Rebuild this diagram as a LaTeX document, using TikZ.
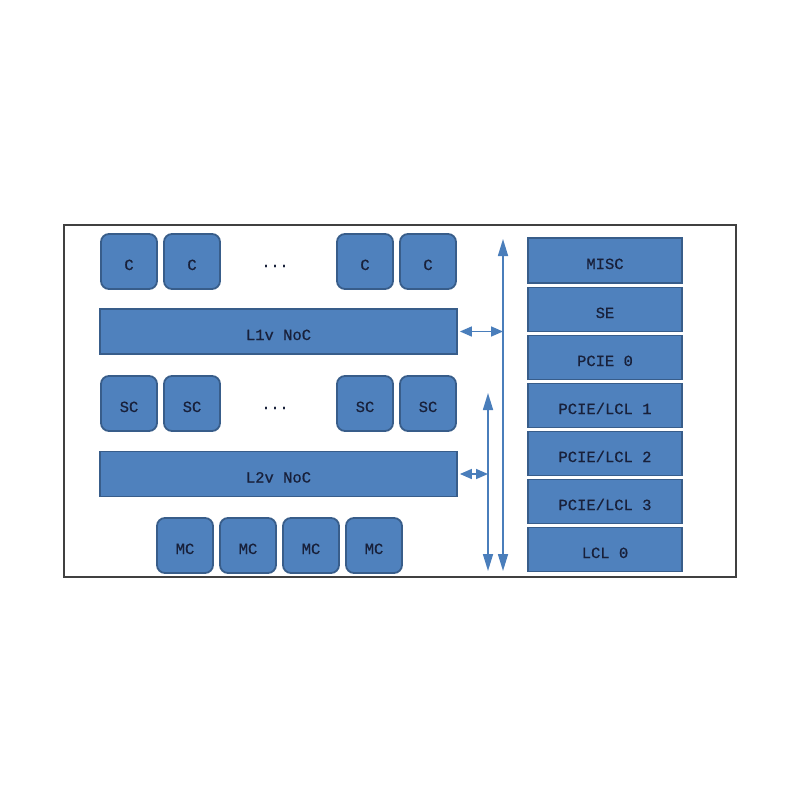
\documentclass[tikz,border=0pt]{standalone}
\usepackage{fontspec}
\setmainfont[FakeBold=0.6]{Liberation Mono}
\usetikzlibrary{arrows.meta}
\definecolor{boxfill}{HTML}{4F81BD}
\definecolor{boxline}{HTML}{385D8A}
\definecolor{txt}{HTML}{18203A}
\definecolor{arr}{HTML}{4A7EBB}
\tikzset{
  blk/.style={draw=boxline, fill=boxfill, line width=1.8pt, text=txt,
    font=\fontsize{15.5}{15.5}\selectfont, inner sep=0pt, text height=17pt, text depth=0pt},
  core/.style={blk, rounded corners=8pt, minimum width=56pt, minimum height=55pt},
  noc/.style={blk, minimum width=357pt, minimum height=45pt},
  io/.style={blk, minimum width=154pt, minimum height=44pt},
  dots/.style={text=txt, font=\fontsize{15}{15}\selectfont},
  vlink/.style={draw=arr, line width=1.6pt, {Triangle[length=17pt,width=10pt]}-{Triangle[length=17pt,width=10pt]}},
  hlink/.style={draw=arr, line width=1.6pt, {Triangle[length=12pt,width=10pt]}-{Triangle[length=12pt,width=10pt]}},
}
\begin{document}
\begin{tikzpicture}[x=1pt,y=-1pt]
\useasboundingbox (0,0) rectangle (800,800);
\fill[white] (0,0) rectangle (800,800);
\draw[line width=1.2pt, draw=black!75] (64,225) rectangle (736,577);
% C row
\node[core] (c1) at (129,261.5) {C};
\node[core] (c2) at (192,261.5) {C};
\node[dots] (cd) at (275,266) {...};
\node[core] (c3) at (365,261.5) {C};
\node[core] (c4) at (428,261.5) {C};
% L1v
\node[noc] (l1) at (278.5,331.5) {L1v NoC};
% SC row
\node[core] (s1) at (129,403.5) {SC};
\node[core] (s2) at (192,403.5) {SC};
\node[dots] (sd) at (275,408) {...};
\node[core] (s3) at (365,403.5) {SC};
\node[core] (s4) at (428,403.5) {SC};
% L2v
\node[noc] (l2) at (278.5,474) {L2v NoC};
% MC row
\node[core] (m1) at (185,545.5) {MC};
\node[core] (m2) at (248,545.5) {MC};
\node[core] (m3) at (311,545.5) {MC};
\node[core] (m4) at (374,545.5) {MC};
% IO column
\node[io, minimum height=45pt] (misc) at (605,260.5) {MISC};
\node[io] (se) at (605,309.5) {SE};
\node[io] (p0) at (605,357.5) {PCIE 0};
\node[io] (p1) at (605,405.5) {PCIE/LCL 1};
\node[io] (p2) at (605,453.5) {PCIE/LCL 2};
\node[io] (p3) at (605,501.5) {PCIE/LCL 3};
\node[io] (lcl) at (605,549.5) {LCL 0};
% buses
\coordinate (bt) at (503,239);
\coordinate (bb) at (503,571);
\coordinate (st) at (488,393);
\coordinate (sb) at (488,571);
\draw[vlink] (bt) -- (bb);
\draw[vlink] (st) -- (sb);
\draw[hlink] ([xshift=2pt]l1.east) -- (l1.east -| bt);
\draw[hlink] ([xshift=2pt]l2.east) -- (l2.east -| st);
\end{tikzpicture}
\end{document}
